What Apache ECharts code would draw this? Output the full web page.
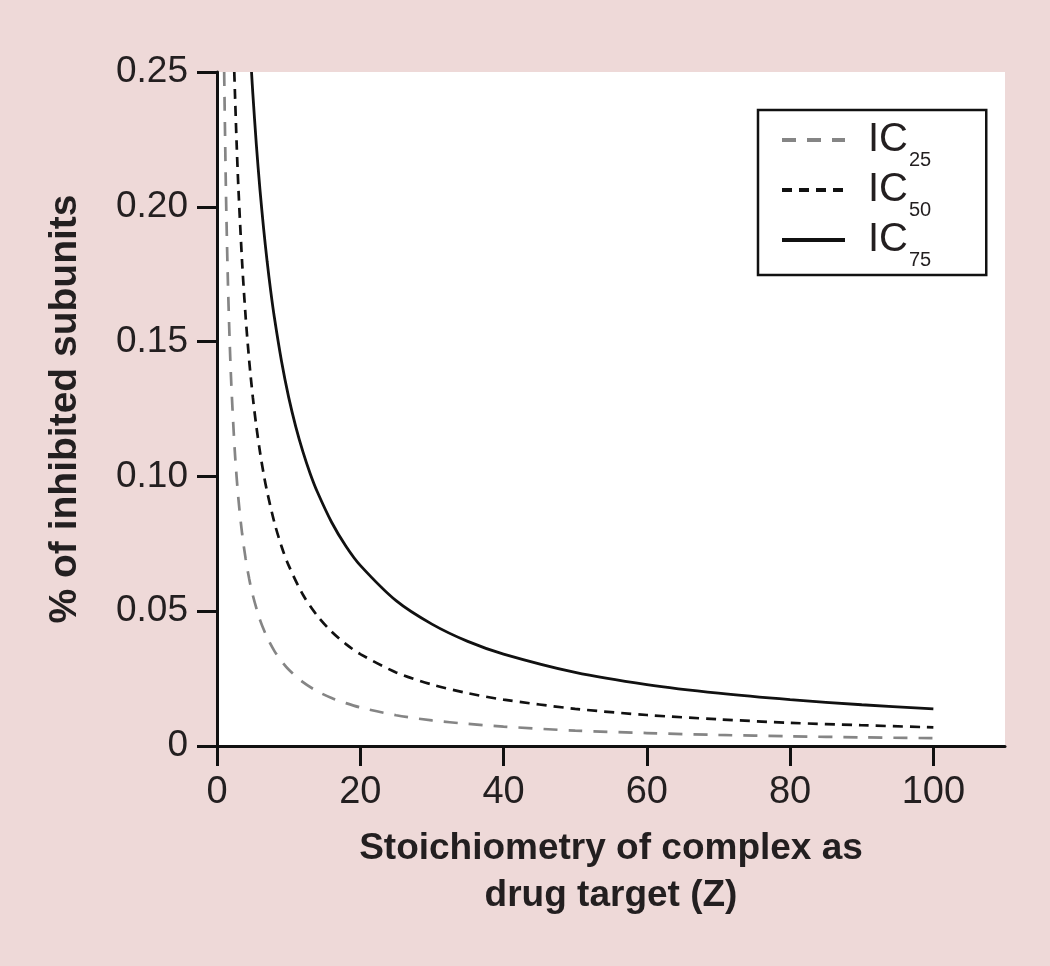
<!DOCTYPE html>
<html>
<head>
<meta charset="utf-8">
<script src="https://cdn.jsdelivr.net/npm/echarts@6/dist/echarts.min.js"></script>
<style>
html,body{margin:0;padding:0;background:#eed9d8;}
#c{width:1050px;height:966px;}
</style>
</head>
<body>
<div id="c"></div>
<script>
// Stoichiometry Z (x) and fraction of inhibited subunits (y)
const ic25Z = [1, 1.25, 1.5, 1.75, 2, 2.5, 3, 3.5, 4, 4.5, 5, 6, 7, 8, 9, 10, 12, 14, 16, 18, 20, 25, 30, 35, 40, 50, 60, 70, 80, 90, 100];
const ic25V = [0.250, 0.2055, 0.1745, 0.1516, 0.1340, 0.1087, 0.0914, 0.0789, 0.0694, 0.0619, 0.0559, 0.0468, 0.0403, 0.0353, 0.0315, 0.0284, 0.0237, 0.0203, 0.0178, 0.0159, 0.0143, 0.0114, 0.0095, 0.0082, 0.0072, 0.0057, 0.0048, 0.0041, 0.0036, 0.0032, 0.0029];

const ic50Z = [2.41, 2.75, 3, 3.5, 4, 4.5, 5, 5.5, 6, 6.5, 7, 8, 9, 10, 12, 14, 16, 18, 20, 25, 30, 35, 40, 50, 60, 70, 80, 90, 100];
const ic50V = [0.250, 0.2228, 0.2063, 0.1797, 0.1591, 0.1428, 0.1294, 0.1184, 0.1091, 0.1011, 0.0943, 0.0830, 0.0741, 0.0670, 0.0561, 0.0483, 0.0424, 0.0378, 0.0341, 0.0273, 0.0228, 0.0196, 0.0172, 0.0138, 0.0115, 0.0099, 0.0086, 0.0077, 0.0069];

const ic75Z = [4.82, 5, 5.5, 6, 6.5, 7, 7.5, 8, 9, 10, 11, 12, 13, 14, 16, 18, 20, 25, 30, 35, 40, 50, 60, 70, 80, 90, 100];
const ic75V = [0.250, 0.2421, 0.2228, 0.2063, 0.1921, 0.1797, 0.1687, 0.1591, 0.1428, 0.1294, 0.1184, 0.1091, 0.1011, 0.0943, 0.0830, 0.0741, 0.0670, 0.0539, 0.0452, 0.0388, 0.0341, 0.0273, 0.0228, 0.0196, 0.0172, 0.0153, 0.0138];

const xTicks = [0, 20, 40, 60, 80, 100];
const yTicks = [0, 0.05, 0.10, 0.15, 0.20, 0.25];
const seriesNames = ['IC25', 'IC50', 'IC75'];

const zip = (a, b) => a.map((v, i) => [v, b[i]]);
const ink = '#231f20';

const chart = echarts.init(document.getElementById('c'));
chart.setOption({
  backgroundColor: '#eed9d8',
  animation: false,
  grid: {
    left: 217, top: 72, right: 45, bottom: 220,
    show: true, backgroundColor: '#ffffff', borderWidth: 0
  },
  legend: {
    orient: 'vertical',
    left: 758, top: 110,
    padding: [0, 55, 5, 22],
    itemWidth: 63, itemHeight: 14, itemGap: -10,
    backgroundColor: '#ffffff',
    borderColor: '#111', borderWidth: 2.5, borderRadius: 0,
    data: seriesNames,
    itemStyle: { opacity: 0 },
    lineStyle: { width: 4 },
    formatter: n => '{ic|IC}{sub|' + n.slice(2) + '}',
    textStyle: {
      color: ink,
      rich: {
        ic: { fontFamily: 'Liberation Sans', fontSize: 40, lineHeight: 50, color: ink, padding: [0, 0, 0, 18] },
        sub: { fontFamily: 'Liberation Sans', fontSize: 20, lineHeight: 10, color: ink, padding: [40, 0, 0, 1] }
      }
    }
  },
  xAxis: {
    type: 'value', min: 0, max: 110, interval: 20,
    name: 'Stoichiometry of complex as\ndrug target (Z)',
    nameLocation: 'middle', nameGap: 79,
    nameTextStyle: { fontFamily: 'Liberation Sans', fontWeight: 'bold', fontSize: 37, lineHeight: 47, color: ink },
    splitLine: { show: false },
    axisLine: { show: true, onZero: false, lineStyle: { color: '#111', width: 3 } },
    axisTick: { show: true, inside: false, length: 20, lineStyle: { color: '#111', width: 3 }, customValues: xTicks },
    axisLabel: { margin: 28, fontFamily: 'Liberation Sans', fontSize: 38, color: ink, customValues: xTicks }
  },
  yAxis: {
    type: 'value', min: 0, max: 0.25, interval: 0.05,
    name: '% of inhibited subunits',
    nameLocation: 'middle', nameGap: 132, nameRotate: 90,
    nameTextStyle: { fontFamily: 'Liberation Sans', fontWeight: 'bold', fontSize: 39, color: ink },
    splitLine: { show: false },
    axisLine: { show: true, onZero: false, lineStyle: { color: '#111', width: 3 } },
    axisTick: { show: true, inside: false, length: 20, lineStyle: { color: '#111', width: 3 }, customValues: yTicks },
    axisLabel: {
      margin: 29, fontFamily: 'Liberation Sans', fontSize: 37, color: ink, customValues: yTicks,
      formatter: v => (v === 0 ? '0' : v.toFixed(2))
    }
  },
  series: [
    {
      name: 'IC25', type: 'line', data: zip(ic25Z, ic25V), symbol: 'none', smooth: 0.3, clip: true,
      lineStyle: { color: '#858585', width: 2.7, type: [14, 11] }
    },
    {
      name: 'IC50', type: 'line', data: zip(ic50Z, ic50V), symbol: 'none', smooth: 0.3, clip: true,
      lineStyle: { color: '#111', width: 2.7, type: [10, 7] }
    },
    {
      name: 'IC75', type: 'line', data: zip(ic75Z, ic75V), symbol: 'none', smooth: 0.3, clip: true,
      lineStyle: { color: '#111', width: 2.8, type: 'solid' }
    }
  ]
});
</script>
</body>
</html>
